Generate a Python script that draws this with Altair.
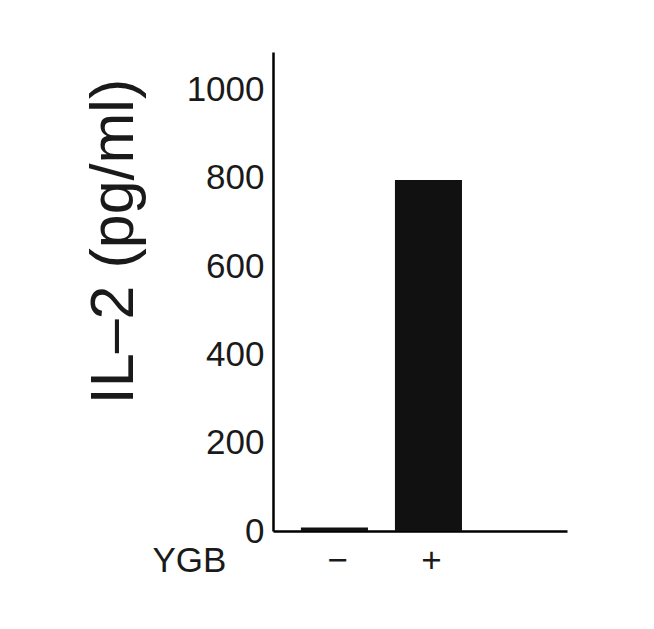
import altair as alt
import pandas as pd

categories = ["−", "+"]
values = [8, 795]

df = pd.DataFrame({"YGB": categories, "IL2": values})

FONT = "Liberation Sans"
TXT = "#1a1a1a"

chart = alt.Chart(df).mark_bar(color="#111111").encode(
    x=alt.X(
        "YGB:N",
        sort=categories,
        scale=alt.Scale(paddingInner=0.287, paddingOuter=0.707, align=0.21),
        axis=alt.Axis(
            title="YGB",
            titleAngle=0,
            titleX=-121,
            titleY=40,
            titleAlign="left",
            titleBaseline="alphabetic",
            titleFontSize=35,
            titleFontWeight="normal",
            titleFont=FONT,
            titleColor=TXT,
            labelAngle=0,
            labelFontSize=35,
            labelFont=FONT,
            labelColor=TXT,
            labelBaseline="alphabetic",
            labelPadding=40,
            labelOffset=3,
            ticks=False,
            tickSize=0,
            domainColor="#000000",
            domainWidth=2.5,
            grid=False,
        ),
    ),
    y=alt.Y(
        "IL2:Q",
        scale=alt.Scale(domain=[0, 1085], nice=False),
        axis=alt.Axis(
            title="IL–2 (pg/ml)",
            values=[0, 200, 400, 600, 800, 1000],
            format="d",
            titleAngle=-90,
            titleX=-141,
            titleY=189,
            titleAlign="center",
            titleBaseline="alphabetic",
            titleFontSize=61,
            titleFontWeight="normal",
            titleFont=FONT,
            titleColor=TXT,
            labelFontSize=35,
            labelFont=FONT,
            labelColor=TXT,
            labelBaseline="middle",
            labelPadding=9,
            ticks=False,
            tickSize=0,
            domainColor="#000000",
            domainWidth=2.5,
            grid=False,
        ),
    ),
).properties(
    width=294,
    height=479,
    background="white",
    autosize=alt.AutoSizeParams(type="none"),
    padding={"left": 265, "top": 44, "right": 60, "bottom": 70},
).configure_view(strokeWidth=0, stroke="transparent")

chart.save("out.html", embed_options={"renderer": "svg", "actions": False})
